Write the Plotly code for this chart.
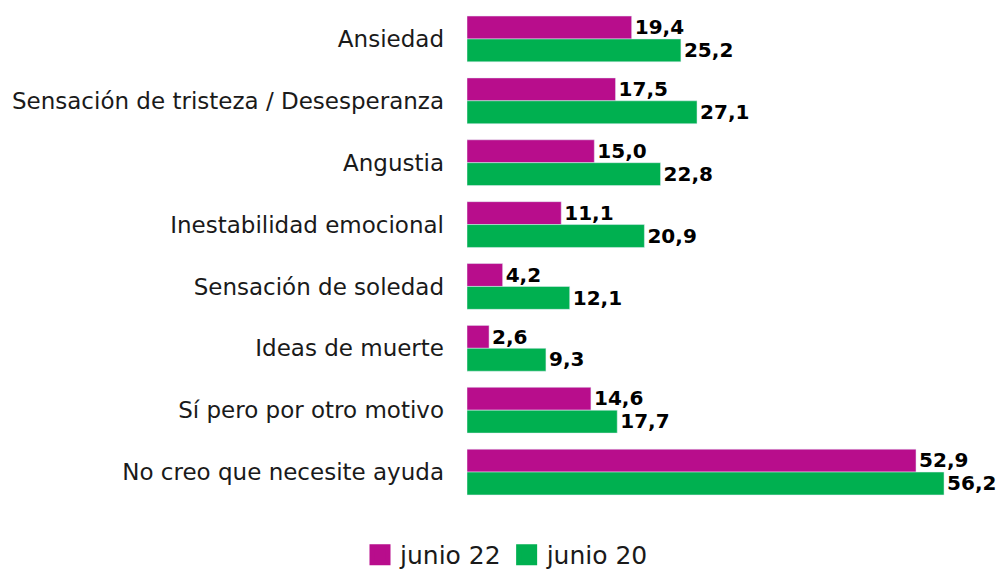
import plotly.graph_objects as go

categories = [
    "Ansiedad",
    "Sensación de tristeza / Desesperanza",
    "Angustia",
    "Inestabilidad emocional",
    "Sensación de soledad",
    "Ideas de muerte",
    "Sí pero por otro motivo",
    "No creo que necesite ayuda",
]
junio_22 = [19.4, 17.5, 15.0, 11.1, 4.2, 2.6, 14.6, 52.9]
junio_20 = [25.2, 27.1, 22.8, 20.9, 12.1, 9.3, 17.7, 56.2]

MAGENTA = "#B80D8C"
GREEN = "#00B050"


def fmt(v):
    return f"{v:.1f}".replace(".", ",")


label_font = dict(family="DejaVu Sans", size=21, color="#000000", weight="bold")

fig = go.Figure()
fig.add_trace(go.Bar(
    y=categories, x=junio_22, orientation="h", name="junio 22",
    marker_color=MAGENTA, showlegend=False,
    text=[fmt(v) for v in junio_22], textposition="outside", cliponaxis=False,
    textfont=label_font,
))
fig.add_trace(go.Bar(
    y=categories, x=junio_20, orientation="h", name="junio 20",
    marker_color=GREEN, showlegend=False,
    text=[fmt(v) for v in junio_20], textposition="outside", cliponaxis=False,
    textfont=label_font,
))
# legend entries with big square swatches
for name, color in [("junio 22", MAGENTA), ("junio 20", GREEN)]:
    fig.add_trace(go.Scatter(
        x=[None], y=[None], mode="markers", name=name,
        marker=dict(symbol="square", size=16, color=color,
                    line=dict(width=5, color=color)),
    ))

# page body has an 8px margin, so the figure is 8px smaller and shifted
fig.update_layout(
    width=998, height=563,
    barmode="group", bargap=0.26, bargroupgap=0,
    plot_bgcolor="white", paper_bgcolor="white",
    margin=dict(l=459, r=0, t=0, b=68, autoexpand=False),
    font=dict(family="DejaVu Sans", size=23, color="#1a1a1a"),
    legend=dict(
        orientation="h", x=0.5, xref="container", xanchor="center",
        y=-0.105, yanchor="middle",
        font=dict(size=25), traceorder="normal", itemwidth=30,
    ),
    uniformtext=dict(mode=False),
)
fig.update_xaxes(range=[0, 63.5], visible=False)
fig.update_yaxes(autorange="reversed", showgrid=False, showline=False,
                 ticks="", ticklabelstandoff=22, automargin=False)

fig.write_html("out.html")
